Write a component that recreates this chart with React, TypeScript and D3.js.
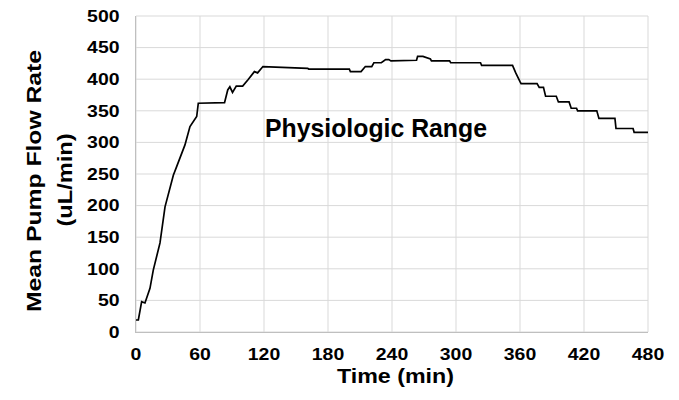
import React from 'react'
import * as d3 from 'd3'

// time (min) and mean pump flow rate (uL/min)
const times = [
  0, 2.2, 5.3, 8.4, 13.1, 16.2, 22.5, 27.2, 35, 38.2, 45.9, 50.6, 56.9, 58.4, 83, 86, 88, 90.5, 94,
  100, 105, 111, 114, 119, 161, 162, 200, 201, 211, 215, 221, 223, 230, 234, 237,
  239, 263, 264, 269, 276, 277, 294, 295, 323, 324, 353, 356, 360, 361, 376,
  378, 382, 384, 394, 396, 406, 408, 413, 414, 432, 434, 449, 450, 466, 467, 480,
]
const flows = [
  19, 19, 48, 46, 69, 98, 141, 198, 248, 262, 296, 325, 341, 362, 363, 383, 388, 379, 389,
  389, 399, 412, 410, 420, 417, 416, 416, 412, 412, 420, 420, 426, 426, 431, 431,
  429, 430, 436, 436, 432, 429, 429, 426, 426, 422, 422, 410, 396, 393, 393,
  387, 387, 373, 373, 364, 364, 354, 354, 350, 350, 338, 338, 322, 322, 316, 316,
]

const xTicks = [0, 60, 120, 180, 240, 300, 360, 420, 480]
const yTicks = [0, 50, 100, 150, 200, 250, 300, 350, 400, 450, 500]

const font = '"Liberation Sans", Arial, sans-serif'

export default function App() {
  const x = d3.scaleLinear().domain([0, 480]).range([136, 648])
  const y = d3.scaleLinear().domain([0, 500]).range([332, 16])

  const pts: [number, number][] = times.map((t, i) => [t, flows[i]])
  const line = d3
    .line<[number, number]>()
    .x(d => x(d[0]))
    .y(d => y(d[1]))

  return (
    <svg
      width={679}
      height={400}
      style={{ position: 'absolute', left: 0, top: 0, background: '#fff' }}
      fontFamily={font}
      fontWeight="bold"
    >
      {/* grid */}
      {yTicks.map(v => (
        <line key={'gy' + v} x1={136} x2={648} y1={y(v)} y2={y(v)} stroke="#d9d9d9" strokeWidth={1} />
      ))}
      {xTicks.map(v => (
        <line key={'gx' + v} x1={x(v)} x2={x(v)} y1={16} y2={332} stroke="#d9d9d9" strokeWidth={1} />
      ))}
      {/* axes */}
      <line x1={136} x2={648} y1={332.5} y2={332.5} stroke="#bfbfbf" strokeWidth={1} />
      <line x1={135.5} x2={135.5} y1={16} y2={333} stroke="#bfbfbf" strokeWidth={1} />

      <path d={line(pts) || ''} fill="none" stroke="#000" strokeWidth={1.7} />

      {yTicks.map(v => {
        const s = String(v)
        return (
          <text key={'ty' + v} x={119.5} y={y(v) + 5.8} textAnchor="end" fontSize={16}
            textLength={s.length * 10.8} lengthAdjust="spacingAndGlyphs">
            {s}
          </text>
        )
      })}
      {xTicks.map(v => {
        const s = String(v)
        return (
          <text key={'tx' + v} x={x(v)} y={359.5} textAnchor="middle" fontSize={16}
            textLength={s.length * 10.8} lengthAdjust="spacingAndGlyphs">
            {s}
          </text>
        )
      })}

      <text x={395.5} y={383} textAnchor="middle" fontSize={20} textLength={117} lengthAdjust="spacingAndGlyphs">
        Time (min)
      </text>
      <text transform="translate(41,181) rotate(-90)" textAnchor="middle" fontSize={21}
        textLength={262} lengthAdjust="spacingAndGlyphs">
        Mean Pump Flow Rate
      </text>
      <text transform="translate(72,180) rotate(-90)" textAnchor="middle" fontSize={21}
        textLength={93} lengthAdjust="spacingAndGlyphs">
        (uL/min)
      </text>

      <text x={265} y={137} fontSize={25} textLength={222} lengthAdjust="spacingAndGlyphs">
        Physiologic Range
      </text>
    </svg>
  )
}
